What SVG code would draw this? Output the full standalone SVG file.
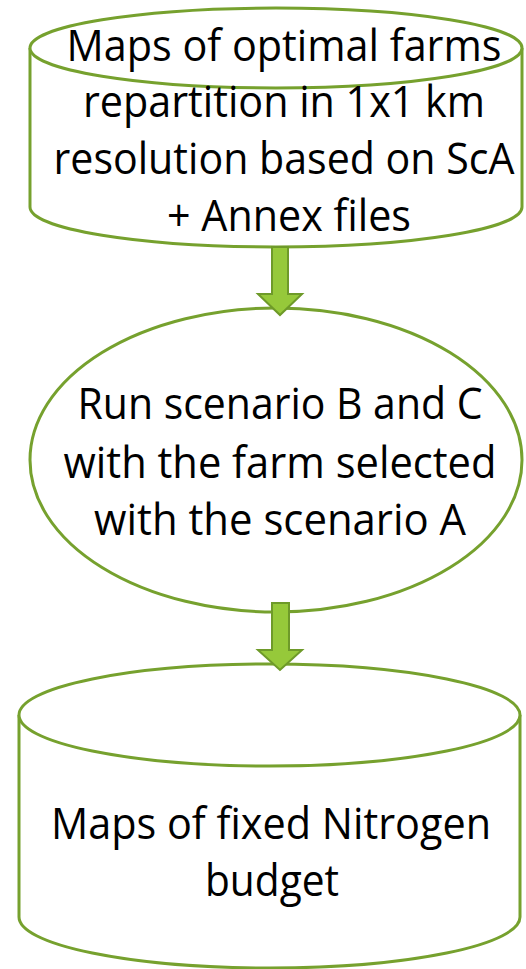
<svg xmlns="http://www.w3.org/2000/svg" width="526" height="969" viewBox="0 0 526 969">
<style>
.shape{fill:#ffffff;stroke:#76A12E;stroke-width:3}
.arrow{fill:#96C93A;stroke:#6E9A29;stroke-width:2;stroke-linejoin:miter}
.t{font-family:"Open Sans","Noto Sans","Liberation Sans",sans-serif;font-size:43px;fill:#000000;text-anchor:middle}
</style>
<rect width="526" height="969" fill="#ffffff"/>
<g id="node-maps-optimal">
<path class="shape" d="M30,48 A246,40 0 0 1 522,48 L522,207 A246,40 0 0 1 30,207 Z"/>
<path class="shape" fill="none" d="M30,48 A246,40 0 0 0 522,48"/>
<text class="t" x="284" y="61" textLength="435" lengthAdjust="spacingAndGlyphs">Maps of optimal farms</text>
<text class="t" x="284" y="117" textLength="402" lengthAdjust="spacingAndGlyphs">repartition in 1x1 km</text>
<text class="t" x="284" y="174" textLength="461" lengthAdjust="spacingAndGlyphs">resolution based on ScA</text>
<text class="t" x="289" y="231" textLength="244" lengthAdjust="spacingAndGlyphs">+ Annex files</text>
</g>
<g id="node-run-scenario">
<ellipse class="shape" cx="276" cy="460" rx="246" ry="152"/>
<text class="t" x="280" y="419" textLength="405" lengthAdjust="spacingAndGlyphs">Run scenario B and C</text>
<text class="t" x="280" y="478" textLength="433" lengthAdjust="spacingAndGlyphs">with the farm selected</text>
<text class="t" x="280" y="535" textLength="372" lengthAdjust="spacingAndGlyphs">with the scenario A</text>
</g>
<g id="node-maps-nitrogen">
<path class="shape" d="M19,715 A250.5,51 0 0 1 520,715 L520,917 A250.5,51 0 0 1 19,917 Z"/>
<path class="shape" fill="none" d="M19,715 A250.5,51 0 0 0 520,715"/>
<text class="t" x="271" y="839" textLength="440" lengthAdjust="spacingAndGlyphs">Maps of fixed Nitrogen</text>
<text class="t" x="272" y="896" textLength="134" lengthAdjust="spacingAndGlyphs">budget</text>
</g>
<g id="connectors">
<polygon class="arrow" points="272,247 288,247 288,294 302,294 280,315 258,294 272,294"/>
<polygon class="arrow" points="272,603 289,603 289,650 302,650 280,670 258,650 272,650"/>
</g>
</svg>
